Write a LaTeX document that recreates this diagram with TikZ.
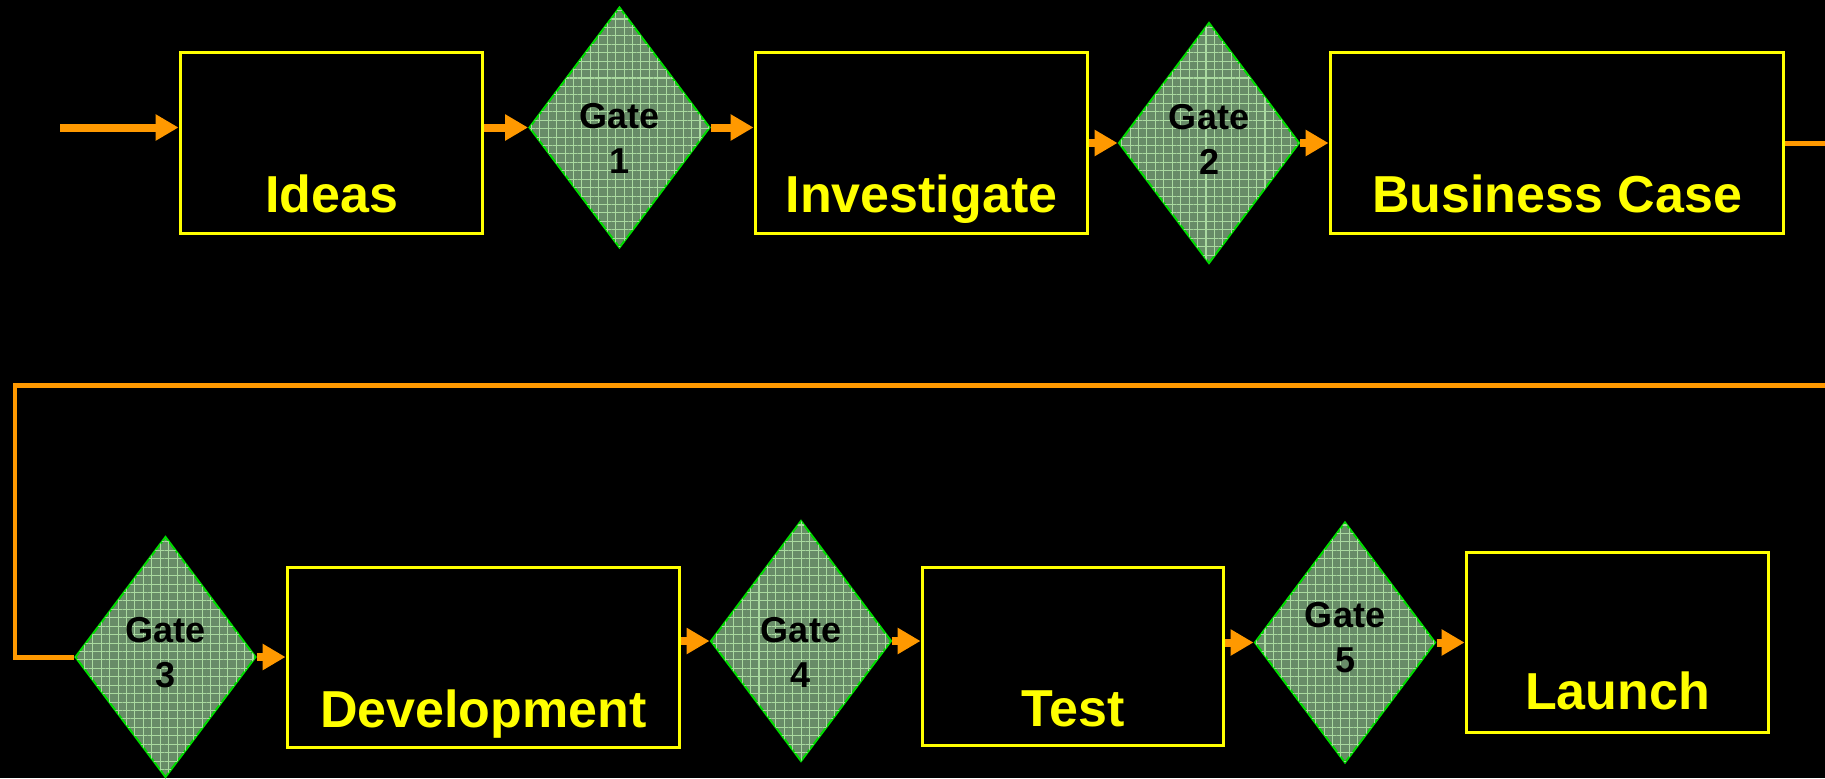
\documentclass[tikz,border=0pt]{standalone}
\usepackage{fontspec}
\setmainfont{Liberation Sans}
\usetikzlibrary{shapes.geometric,arrows.meta,patterns.meta}
\definecolor{stageyellow}{RGB}{255,255,0}
\definecolor{floworange}{RGB}{255,153,0}
\definecolor{gateedge}{RGB}{0,220,0}
\definecolor{gatefill}{RGB}{104,140,104}
\definecolor{gategrid}{RGB}{170,218,160}
\tikzset{
  stage/.style={draw=stageyellow, line width=0.06cm, text=stageyellow,
    font=\bfseries\fontsize{29.6}{32}\selectfont, inner sep=0pt,
    minimum height=3.64cm, text height=3.22cm, text depth=0.42cm},
  gate/.style={diamond, draw=gateedge, line width=0.04cm, fill=gatefill,
    postaction={pattern={Hatch[angle=0,distance=4.8pt,line width=0.6pt]}, pattern color=gategrid},
    inner sep=0pt, minimum width=3.62cm, minimum height=4.82cm},
  gatetext/.style={font=\bfseries\fontsize{20.5}{25.6}\selectfont, align=center, text=black},
  flow/.style={draw=floworange, line width=0.16cm, -{Triangle[length=0.46cm,width=0.5cm]}},
  loopline/.style={draw=floworange, line width=0.1cm},
}
\begin{document}
\begin{tikzpicture}[x=0.02cm, y=-0.02cm]
  \useasboundingbox (0,0) rectangle (1825,778);
  \fill[black] (0,0) rectangle (1825,778);
  \clip (0,0) rectangle (1825,778);
  % top row
  \node[stage, minimum width=6.06cm] (ideas) at (331.5,143) {Ideas};
  \node[gate, label={[gatetext, yshift=-0.21cm]center:Gate\\1}] (g1) at (619.5,127.5) {};
  \node[stage, minimum width=6.66cm] (investigate) at (921.5,143) {Investigate};
  \node[gate, label={[gatetext, yshift=0.08cm]center:Gate\\2}] (g2) at (1209,143) {};
  \node[stage, minimum width=9.08cm] (business) at (1557,143) {Business Case};
  % bottom row
  \node[gate, label={[gatetext, yshift=0.09cm]center:Gate\\3}] (g3) at (165.5,657) {};
  \node[stage, minimum width=7.86cm, minimum height=3.62cm, text height=3.2cm] (development) at (483.5,657.5) {Development};
  \node[gate, label={[gatetext, yshift=-0.22cm]center:Gate\\4}] (g4) at (801,641) {};
  \node[stage, minimum width=6.04cm, minimum height=3.58cm, text height=3.18cm, text depth=0.4cm] (test) at (1073,656.5) {Test};
  \node[gate, label={[gatetext, yshift=0.1cm]center:Gate\\5}] (g5) at (1345,642.5) {};
  \node[stage, minimum width=6.06cm, minimum height=3.62cm, text height=3.16cm, text depth=0.46cm] (launch) at (1617.5,642.5) {Launch};
  % connectors
  \coordinate (start) at (60,127.5);
  \coordinate (turnR) at (1900,385);
  \coordinate (turnL) at (15,385);
  \draw[flow] (start) -- (ideas.west |- start);
  \draw[flow] (ideas.east |- g1.west) -- (g1.west);
  \draw[flow] (g1.east) -- (investigate.west |- g1.east);
  \draw[flow] (investigate.east) -- (g2.west);
  \draw[flow] (g2.east) -- (business.west);
  \draw[loopline] (business.east) -| (turnR) -- (turnL) |- (g3.west);
  \draw[flow] (g3.east) -- (development.west |- g3.east);
  \draw[flow] (development.east |- g4.west) -- (g4.west);
  \draw[flow] (g4.east) -- (test.west |- g4.east);
  \draw[flow] (test.east |- g5.west) -- (g5.west);
  \draw[flow] (g5.east) -- (launch.west |- g5.east);
\end{tikzpicture}
\end{document}
